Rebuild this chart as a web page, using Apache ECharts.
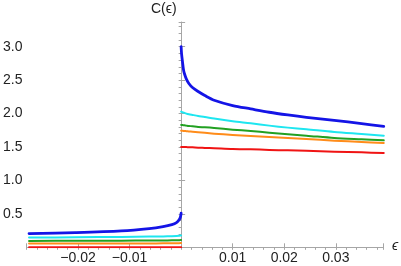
<!DOCTYPE html>
<html>
<head>
<meta charset="utf-8">
<script src="https://cdn.jsdelivr.net/npm/echarts@6/dist/echarts.min.js"></script>
<style>html,body{margin:0;padding:0;background:#fff}#c{width:401px;height:266px}</style>
</head>
<body>
<div id="c"></div>
<script>
// ---- data ----
const epsNeg = [-0.0295, -0.0205, -0.0116, -0.0062, -0.0035, -0.0018, -0.0009, -0.0004, -0.00015, 0];
const epsPos = [0, 0.00009, 0.00027, 0.00045, 0.00063, 0.001, 0.0015, 0.0022, 0.0033, 0.0046, 0.0064,
                0.01, 0.0135, 0.0171, 0.0207, 0.0243, 0.0297, 0.035, 0.0393];

const blueNeg   = [0.205, 0.22, 0.245, 0.28, 0.31, 0.34, 0.37, 0.41, 0.45, 0.51];
const cyanNeg   = [0.145, 0.15, 0.155, 0.16, 0.163, 0.166, 0.169, 0.172, 0.175, 0.178];
const greenNeg  = [0.095, 0.097, 0.099, 0.101, 0.102, 0.104, 0.105, 0.107, 0.108, 0.11];
const orangeNeg = [0.055, 0.056, 0.057, 0.058, 0.059, 0.06, 0.061, 0.062, 0.063, 0.065];
const redNeg    = [0, 0, 0, 0, 0, 0, 0, 0, 0, 0];

const bluePos   = [3.0, 2.89, 2.77, 2.66, 2.60, 2.52, 2.45, 2.39, 2.33, 2.27, 2.20,
                   2.12, 2.07, 2.02, 1.98, 1.945, 1.90, 1.85, 1.81];
const cyanPos   = [2.03, 2.025, 2.02, 2.015, 2.01, 2.0, 1.99, 1.98, 1.965, 1.95, 1.925,
                   1.885, 1.855, 1.82, 1.79, 1.765, 1.725, 1.695, 1.67];
const greenPos  = [1.83, 1.83, 1.828, 1.826, 1.824, 1.82, 1.815, 1.81, 1.80, 1.795, 1.785,
                   1.76, 1.74, 1.715, 1.69, 1.67, 1.635, 1.615, 1.60];
const orangePos = [1.745, 1.745, 1.743, 1.741, 1.74, 1.737, 1.733, 1.728, 1.72, 1.712, 1.70,
                   1.68, 1.665, 1.65, 1.635, 1.62, 1.595, 1.575, 1.56];
const redPos    = [1.50, 1.50, 1.50, 1.50, 1.50, 1.499, 1.497, 1.495, 1.49, 1.487, 1.482,
                   1.47, 1.465, 1.457, 1.45, 1.443, 1.43, 1.42, 1.41];

const xMajorTicks = [-0.02, -0.01, 0.01, 0.02, 0.03];
const yMajorTicks = [0.5, 1.0, 1.5, 2.0, 2.5, 3.0];

const colors = {blue:'#1414e6', cyan:'#1ee6f0', green:'#22a022', orange:'#ff8c1a', red:'#f01414'};

function pairs(xs, ys){ return xs.map((x,i)=>[x, ys[i]]); }
function mk(name, xs, ys, color, w){
  return {type:'line', name, data:pairs(xs,ys), showSymbol:false, symbol:'none',
    smooth:0.3, lineStyle:{color, width:w, cap:'round', join:'round'}, z:3, silent:true};
}
const axisGray = '#a6a6a6';
const font = 'Liberation Sans';

const chart = echarts.init(document.getElementById('c'), null, {renderer:'canvas'});
chart.setOption({
  animation:false,
  grid:{left:-2.9, right:17.5, top:22, bottom:18.7, containLabel:false},
  xAxis:[{
    type:'value', min:-0.03, max:0.03925, interval:0.01,
    axisLine:{onZero:true, lineStyle:{color:axisGray, width:1}},
    axisTick:{show:true, inside:true, length:4, lineStyle:{color:axisGray}},
    splitLine:{show:false},
    axisLabel:{color:'#222', fontFamily:font, fontSize:14, margin:4,
      formatter:v=>{ const r=Math.round(v*100)/100; return xMajorTicks.some(t=>Math.abs(t-r)<1e-9)? (r<0?'\u2212':'')+Math.abs(r).toFixed(2) : ''; }}
  },{
    type:'value', min:-0.03, max:0.03925, interval:0.002,
    axisLine:{show:false, onZero:true},
    axisTick:{show:true, inside:true, length:2.5, lineStyle:{color:axisGray}},
    axisLabel:{show:false}, splitLine:{show:false}
  }],
  yAxis:[{
    type:'value', min:0, max:3.37, interval:0.5,
    axisLine:{show:true, onZero:true, lineStyle:{color:axisGray, width:1}},
    axisTick:{show:true, inside:true, length:4, lineStyle:{color:axisGray}},
    splitLine:{show:false},
    axisLabel:{color:'#222', fontFamily:font, fontSize:14, margin:4,
      formatter:v=>{ const r=Math.round(v*10)/10; return yMajorTicks.some(t=>Math.abs(t-r)<1e-9)? r.toFixed(1) : ''; }}
  },{
    type:'value', min:0, max:3.37, interval:0.1,
    axisLine:{show:false, onZero:true},
    axisTick:{show:true, inside:true, length:2.5, lineStyle:{color:axisGray}},
    axisLabel:{show:false}, splitLine:{show:false}
  }],
  graphic:[
    {type:'text', left:151, top:2, style:{text:'C(\u03f5)', font:'14px "Liberation Sans"', fill:'#222'}},
    {type:'text', left:392, top:239, style:{text:'\u03f5', font:'italic 14px "Liberation Sans"', fill:'#222'}}
  ],
  series:[
    mk('redNeg', epsNeg, redNeg, colors.red, 2),
    mk('orangeNeg', epsNeg, orangeNeg, colors.orange, 2),
    mk('greenNeg', epsNeg, greenNeg, colors.green, 2),
    mk('cyanNeg', epsNeg, cyanNeg, colors.cyan, 2),
    mk('blueNeg', epsNeg, blueNeg, colors.blue, 2.8),
    mk('redPos', epsPos, redPos, colors.red, 2),
    mk('orangePos', epsPos, orangePos, colors.orange, 2),
    mk('greenPos', epsPos, greenPos, colors.green, 2),
    mk('cyanPos', epsPos, cyanPos, colors.cyan, 2),
    mk('bluePos', epsPos, bluePos, colors.blue, 2.8)
  ]
});
</script>
</body>
</html>
